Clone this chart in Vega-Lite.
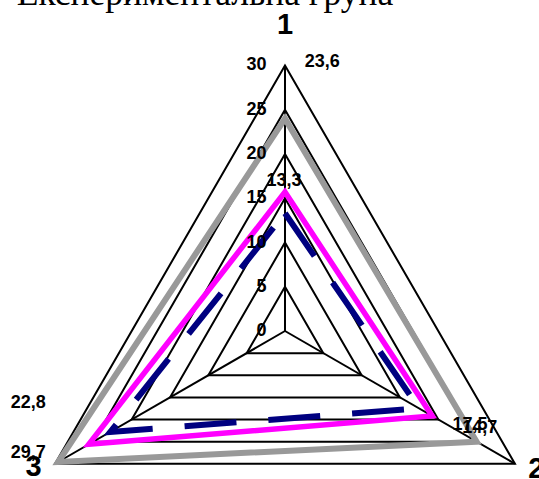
{
  "$schema": "https://vega.github.io/schema/vega-lite/v6.json",
  "width": 539,
  "height": 479,
  "autosize": "none",
  "padding": 0,
  "background": "white",
  "config": {"view": {"stroke": null}},
  "datasets": {
    "series": [
      {"s": "gray", "axis": 1, "v": 24.0},
      {"s": "gray", "axis": 2, "v": 25.0},
      {"s": "gray", "axis": 3, "v": 29.6},
      {"s": "navy", "axis": 1, "v": 13.3},
      {"s": "navy", "axis": 2, "v": 17.5},
      {"s": "navy", "axis": 3, "v": 22.8},
      {"s": "magenta", "axis": 1, "v": 15.7},
      {"s": "magenta", "axis": 2, "v": 19.2},
      {"s": "magenta", "axis": 3, "v": 25.6}
    ],
    "grid": [
      {"lev": 5, "axis": 1}, {"lev": 5, "axis": 2}, {"lev": 5, "axis": 3},
      {"lev": 10, "axis": 1}, {"lev": 10, "axis": 2}, {"lev": 10, "axis": 3},
      {"lev": 15, "axis": 1}, {"lev": 15, "axis": 2}, {"lev": 15, "axis": 3},
      {"lev": 20, "axis": 1}, {"lev": 20, "axis": 2}, {"lev": 20, "axis": 3},
      {"lev": 25, "axis": 1}, {"lev": 25, "axis": 2}, {"lev": 25, "axis": 3},
      {"lev": 30, "axis": 1}, {"lev": 30, "axis": 2}, {"lev": 30, "axis": 3}
    ],
    "levels": [
      {"lev": 0}, {"lev": 5}, {"lev": 10}, {"lev": 15}, {"lev": 20}, {"lev": 25}, {"lev": 30}
    ],
    "labels": [
      {"t": "23,6", "lx": 4.2, "ly": 30.4},
      {"t": "13,3", "lx": -0.1, "ly": 16.9},
      {"t": "17,5", "lx": 20.9, "ly": -10.6},
      {"t": "14,7", "lx": 22.0, "ly": -11.0},
      {"t": "22,8", "lx": -29.0, "ly": -8.1},
      {"t": "29,7", "lx": -29.0, "ly": -13.8}
    ],
    "cats": [
      {"t": "1", "lx": 0, "ly": 34.6},
      {"t": "2", "lx": 28.4, "ly": -15.6},
      {"t": "3", "lx": -28.4, "ly": -15.4}
    ]
  },
  "layer": [
    {
      "data": {"name": "grid"},
      "transform": [
        {"calculate": "datum.lev * (datum.axis == 1 ? 0 : (datum.axis == 2 ? 0.8660254 : -0.8660254))", "as": "px"},
        {"calculate": "datum.lev * (datum.axis == 1 ? 1 : -0.5)", "as": "py"}
      ],
      "mark": {"type": "line", "interpolate": "linear-closed", "color": "black", "strokeWidth": 2},
      "encoding": {
        "x": {"field": "px", "type": "quantitative", "scale": {"domain": [-32.203, 28.701], "nice": false, "zero": false}, "axis": null},
        "y": {"field": "py", "type": "quantitative", "scale": {"domain": [-16.723, 37.401], "nice": false, "zero": false}, "axis": null},
        "detail": {"field": "lev", "type": "nominal"},
        "order": {"field": "axis", "type": "quantitative"}
      }
    },
    {
      "data": {"name": "grid"},
      "transform": [
        {"filter": "datum.lev == 30"},
        {"calculate": "datum.lev * (datum.axis == 1 ? 0 : (datum.axis == 2 ? 0.8660254 : -0.8660254))", "as": "px"},
        {"calculate": "datum.lev * (datum.axis == 1 ? 1 : -0.5)", "as": "py"}
      ],
      "mark": {"type": "rule", "color": "black", "strokeWidth": 2},
      "encoding": {
        "x": {"field": "px", "type": "quantitative"},
        "y": {"field": "py", "type": "quantitative"},
        "x2": {"datum": 0},
        "y2": {"datum": 0}
      }
    },
    {
      "data": {"name": "series"},
      "transform": [
        {"filter": "datum.s == 'gray'"},
        {"calculate": "datum.v * (datum.axis == 1 ? 0 : (datum.axis == 2 ? 0.8660254 : -0.8660254))", "as": "px"},
        {"calculate": "datum.v * (datum.axis == 1 ? 1 : -0.5)", "as": "py"}
      ],
      "mark": {"type": "line", "interpolate": "linear-closed", "color": "#999999", "strokeWidth": 6},
      "encoding": {
        "x": {"field": "px", "type": "quantitative"},
        "y": {"field": "py", "type": "quantitative"},
        "order": {"field": "axis", "type": "quantitative"}
      }
    },
    {
      "data": {"name": "series"},
      "transform": [
        {"filter": "datum.s == 'navy'"},
        {"calculate": "datum.v * (datum.axis == 1 ? 0 : (datum.axis == 2 ? 0.8660254 : -0.8660254))", "as": "px"},
        {"calculate": "datum.v * (datum.axis == 1 ? 1 : -0.5)", "as": "py"}
      ],
      "mark": {"type": "line", "interpolate": "linear-closed", "color": "#000080", "strokeWidth": 6, "strokeDash": [52, 32]},
      "encoding": {
        "x": {"field": "px", "type": "quantitative"},
        "y": {"field": "py", "type": "quantitative"},
        "order": {"field": "axis", "type": "quantitative"}
      }
    },
    {
      "data": {"name": "series"},
      "transform": [
        {"filter": "datum.s == 'magenta'"},
        {"calculate": "datum.v * (datum.axis == 1 ? 0 : (datum.axis == 2 ? 0.8660254 : -0.8660254))", "as": "px"},
        {"calculate": "datum.v * (datum.axis == 1 ? 1 : -0.5)", "as": "py"}
      ],
      "mark": {"type": "line", "interpolate": "linear-closed", "color": "#FF00FF", "strokeWidth": 5.5},
      "encoding": {
        "x": {"field": "px", "type": "quantitative"},
        "y": {"field": "py", "type": "quantitative"},
        "order": {"field": "axis", "type": "quantitative"}
      }
    },
    {
      "data": {"name": "levels"},
      "mark": {"type": "text", "align": "right", "baseline": "middle", "font": "Liberation Sans", "fontWeight": "bold", "fontSize": 18, "color": "black"},
      "encoding": {
        "x": {"datum": -2.1},
        "y": {"field": "lev", "type": "quantitative"},
        "text": {"field": "lev", "type": "quantitative"}
      }
    },
    {
      "data": {"name": "labels"},
      "mark": {"type": "text", "align": "center", "baseline": "middle", "font": "Liberation Sans", "fontWeight": "bold", "fontSize": 18, "color": "black"},
      "encoding": {
        "x": {"field": "lx", "type": "quantitative"},
        "y": {"field": "ly", "type": "quantitative"},
        "text": {"field": "t", "type": "nominal"}
      }
    },
    {
      "data": {"name": "cats"},
      "mark": {"type": "text", "align": "center", "baseline": "middle", "font": "Liberation Sans", "fontWeight": "bold", "fontSize": 29, "color": "black"},
      "encoding": {
        "x": {"field": "lx", "type": "quantitative"},
        "y": {"field": "ly", "type": "quantitative"},
        "text": {"field": "t", "type": "nominal"}
      }
    },
    {
      "data": {"values": [{"t": "Експериментальна група"}]},
      "mark": {"type": "text", "align": "center", "baseline": "alphabetic", "font": "Liberation Serif", "fontSize": 35.5, "color": "black"},
      "encoding": {
        "x": {"datum": -9.04},
        "y": {"datum": 36.8},
        "text": {"field": "t", "type": "nominal"}
      }
    }
  ]
}
